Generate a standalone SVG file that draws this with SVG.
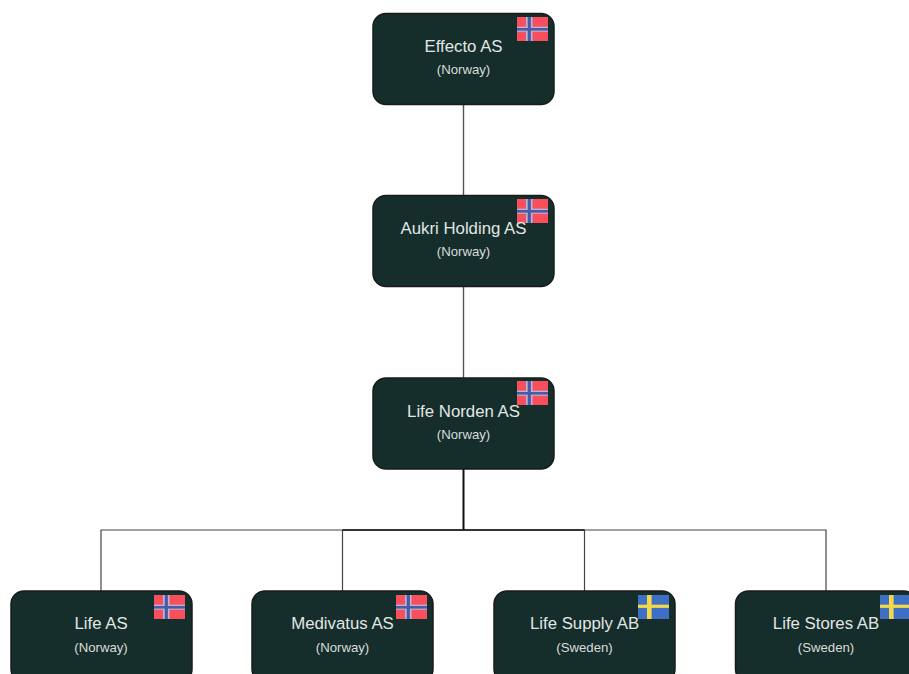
<svg xmlns="http://www.w3.org/2000/svg" width="909" height="674" viewBox="0 0 909 674">
<style>
.box{fill:#152e2b;stroke:#1a1a1a;stroke-width:1.5}
.name{font:16.8px "Liberation Sans",Arial,sans-serif;fill:#e2e6e4;text-anchor:middle}
.country{font:13.2px "Liberation Sans",Arial,sans-serif;fill:#d8dcda;text-anchor:middle}
.line{fill:none;stroke:#555;stroke-width:1.4}
.thin{fill:none;stroke:#444;stroke-width:1.2}
.strong{fill:none;stroke:#111;stroke-width:2}
</style>
<defs>
<g id="no"><rect width="31" height="24" fill="#f94f5c"/><rect x="9" width="6.500" height="24" fill="#b9b6d4"/><rect y="9.700" width="31" height="5" fill="#b9b6d4"/><rect x="10.700" width="3.200" height="24" fill="#4a5aa8"/><rect y="11" width="31" height="2.600" fill="#4a5aa8"/></g>
<g id="se"><rect width="31" height="24" fill="#3f6fc4"/><rect x="9" width="4.600" height="24" fill="#f5d84a"/><rect y="9.700" width="31" height="3.200" fill="#f5d84a"/></g>
</defs>
<rect width="909" height="674" fill="#fff"/>
<g id="connectors">
<path class="line" d="M463.500 104V195M463.500 287V378"/>
<path class="strong" d="M463.500 469V530"/>
<path class="thin" d="M101 591V530H826V591M342.500 591V530M584.500 591V530"/>
<path class="strong" style="stroke-width:1.600" d="M342.500 530H584.500"/>
</g>
<g id="effecto"><rect class="box" x="373" y="13.500" width="181" height="91" rx="13"/><use href="#no" x="517" y="17"/><text class="name" x="463.500" y="52">Effecto AS</text><text class="country" x="463.500" y="74">(Norway)</text></g>
<g id="aukri"><rect class="box" x="373" y="195.500" width="181" height="91" rx="13"/><use href="#no" x="517" y="199"/><text class="name" x="463.500" y="234">Aukri Holding AS</text><text class="country" x="463.500" y="256">(Norway)</text></g>
<g id="life-norden"><rect class="box" x="373" y="378" width="181" height="91" rx="13"/><use href="#no" x="517" y="381"/><text class="name" x="463.500" y="417">Life Norden AS</text><text class="country" x="463.500" y="439">(Norway)</text></g>
<g id="life-as"><rect class="box" x="11" y="591" width="181" height="91" rx="13"/><use href="#no" x="154" y="595"/><text class="name" x="101" y="629">Life AS</text><text class="country" x="101" y="652">(Norway)</text></g>
<g id="medivatus"><rect class="box" x="252" y="591" width="181" height="91" rx="13"/><use href="#no" x="396" y="595"/><text class="name" x="342.500" y="629">Medivatus AS</text><text class="country" x="342.500" y="652">(Norway)</text></g>
<g id="life-supply"><rect class="box" x="494" y="591" width="181" height="91" rx="13"/><use href="#se" x="638" y="595"/><text class="name" x="584.500" y="629">Life Supply AB</text><text class="country" x="584.500" y="652">(Sweden)</text></g>
<g id="life-stores"><rect class="box" x="735.500" y="591" width="181" height="91" rx="13"/><use href="#se" x="880" y="595"/><text class="name" x="826" y="629">Life Stores AB</text><text class="country" x="826" y="652">(Sweden)</text></g>
</svg>
